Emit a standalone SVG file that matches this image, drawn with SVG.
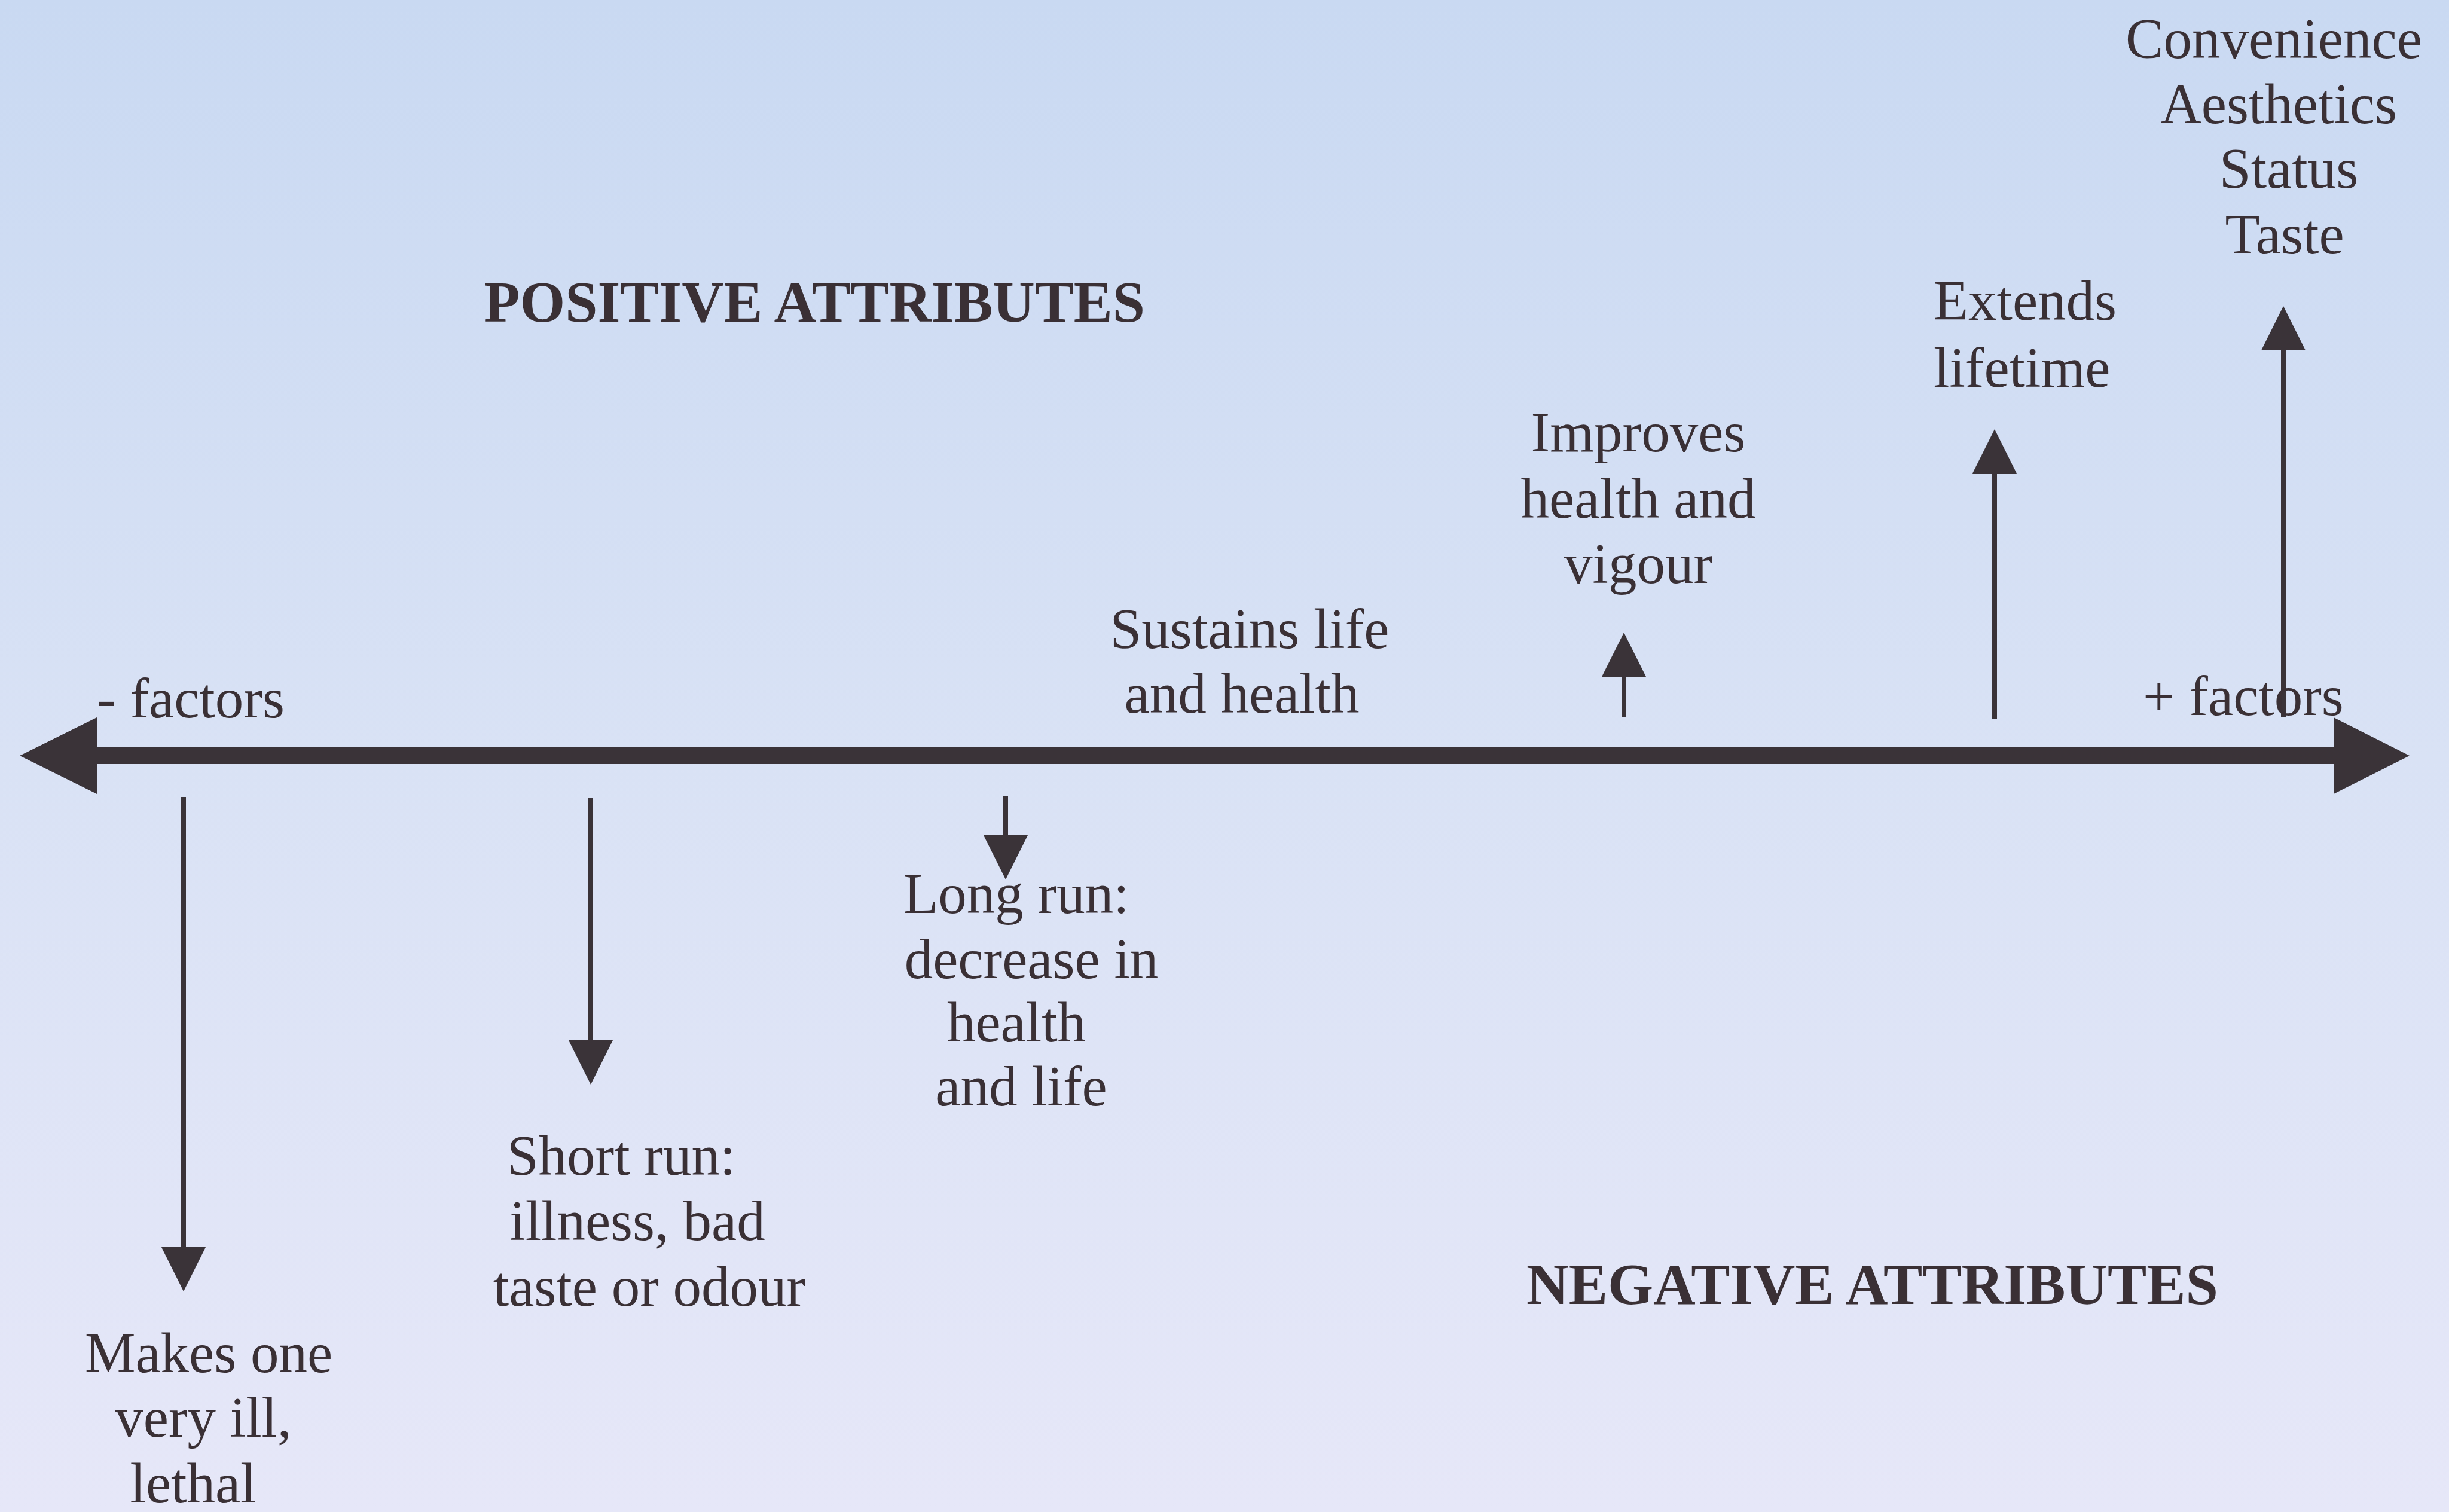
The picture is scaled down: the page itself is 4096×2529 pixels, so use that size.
<svg xmlns="http://www.w3.org/2000/svg" width="4096" height="2529" viewBox="0 0 4096 2529">
<defs>
<linearGradient id="bg" x1="0" y1="0" x2="0" y2="1">
<stop offset="0" stop-color="#c9d9f2"/>
<stop offset="0.5" stop-color="#d9e2f5"/>
<stop offset="1" stop-color="#e6e7f8"/>
</linearGradient>
<marker id="ah" viewBox="0 0 74 74" refX="0" refY="37" markerWidth="74" markerHeight="74" markerUnits="userSpaceOnUse" orient="auto">
<path d="M0,0 L74,37 L0,74 Z" fill="#3a3338"/>
</marker>
<style>
.t{font-family:"Liberation Serif","Times New Roman",serif;font-size:95px;fill:#3a3035}
.b{font-weight:bold;font-size:97px}
.m{text-anchor:middle}
.arr{stroke:#3a3338;stroke-width:8;fill:none;marker-end:url(#ah)}
.axis{stroke:#3a3338;stroke-width:28}
.head{fill:#3a3338}
</style>
</defs>
<rect x="0" y="0" width="4096" height="2529" fill="url(#bg)"/>

<g id="connectors">
<line class="axis" x1="150" y1="1264" x2="3915" y2="1264"/>
<polygon class="head" points="33,1264 162,1200 162,1328"/>
<polygon class="head" points="4030,1264 3903,1200 3903,1328"/>
<line class="arr" x1="307" y1="1333" x2="307" y2="2086"/>
<line class="arr" x1="988" y1="1335" x2="988" y2="1740"/>
<line class="arr" x1="1682" y1="1332" x2="1682" y2="1397"/>
<line class="arr" x1="2716" y1="1199" x2="2716" y2="1132"/>
<line class="arr" x1="3336" y1="1202" x2="3336" y2="792"/>
<line class="arr" x1="3819" y1="1200" x2="3819" y2="586"/>
</g>

<g id="positive-attributes"><text class="t b" x="810" y="538" textLength="1105" lengthAdjust="spacingAndGlyphs">POSITIVE ATTRIBUTES</text></g>
<g id="negative-attributes"><text class="t b" x="2553" y="2181" textLength="1157" lengthAdjust="spacingAndGlyphs">NEGATIVE ATTRIBUTES</text></g>
<g id="minus-factors"><text class="t" x="162" y="1200">- factors</text></g>
<g id="plus-factors"><text class="t" x="3584" y="1196">+ factors</text></g>

<g id="convenience">
<text class="t m" x="3803" y="97">Convenience</text>
<text class="t m" x="3811" y="206">Aesthetics</text>
<text class="t m" x="3828" y="314">Status</text>
<text class="t m" x="3821" y="424">Taste</text>
</g>
<g id="extends-lifetime">
<text class="t" x="3234" y="535">Extends</text>
<text class="t" x="3234" y="647">lifetime</text>
</g>
<g id="improves-health">
<text class="t m" x="2740" y="755">Improves</text>
<text class="t m" x="2740" y="866">health and</text>
<text class="t m" x="2740" y="975">vigour</text>
</g>
<g id="sustains-life">
<text class="t m" x="2090" y="1084">Sustains life</text>
<text class="t m" x="2077" y="1192">and health</text>
</g>
<g id="long-run">
<text class="t m" x="1700" y="1527">Long run:</text>
<text class="t m" x="1725" y="1636">decrease in</text>
<text class="t m" x="1700" y="1742">health</text>
<text class="t m" x="1708" y="1849">and life</text>
</g>
<g id="short-run">
<text class="t m" x="1039" y="1965">Short run:</text>
<text class="t m" x="1066" y="2074">illness, bad</text>
<text class="t m" x="1086" y="2184">taste or odour</text>
</g>
<g id="lethal">
<text class="t m" x="349" y="2295">Makes one</text>
<text class="t m" x="340" y="2403">very ill,</text>
<text class="t m" x="323" y="2513">lethal</text>
</g>
</svg>
